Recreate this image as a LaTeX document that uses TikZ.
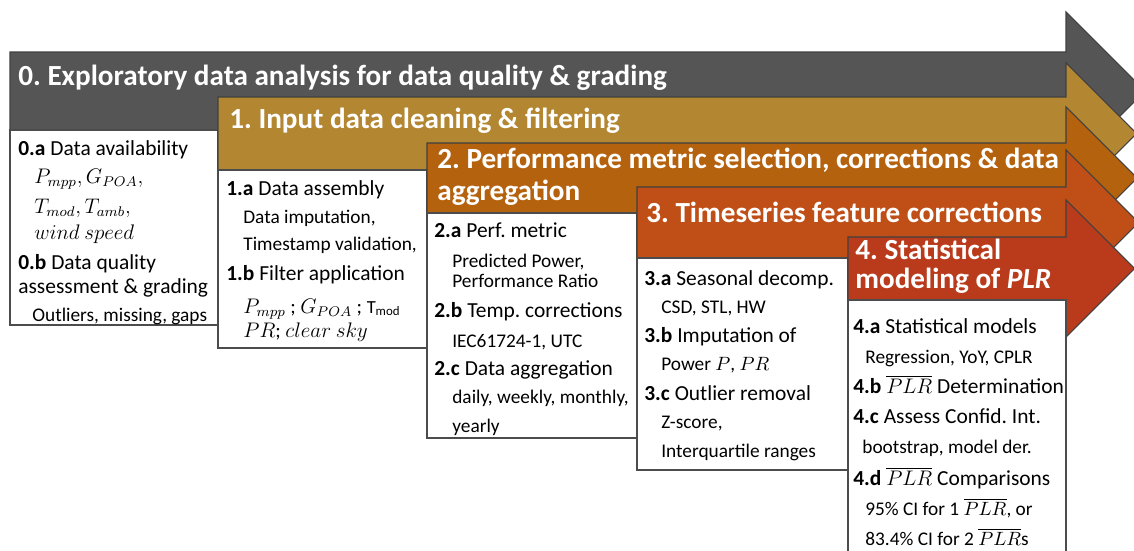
\documentclass[tikz,border=0pt]{standalone}
\usepackage{fontspec}
\setmainfont{Carlito}
\frenchspacing
\definecolor{grayband}{HTML}{555555}
\definecolor{goldband}{HTML}{B38631}
\definecolor{orangeband}{HTML}{B5620F}
\definecolor{rustband}{HTML}{BF4F17}
\definecolor{redband}{HTML}{B93B1B}
\begin{document}
\begin{tikzpicture}[x=0.02cm,y=-0.02cm,
	title/.style={anchor=base west,inner sep=0pt,text=white,font=\fontsize{16.6}{19}\selectfont\bfseries},
	item/.style={anchor=base west,inner sep=0pt,font=\fontsize{12.2}{14}\selectfont},
	eq/.style={anchor=base west,inner sep=0pt,font=\fontsize{11.6}{14}\selectfont},
	sub/.style={anchor=base west,inner sep=0pt,font=\fontsize{11}{12}\selectfont},
	band/.style={draw=black!75,line width=0.6pt},
	card/.style={draw=black!70,fill=white,line width=0.6pt}]
	\useasboundingbox (0,0) rectangle (1134,551);
	\clip (0,0) rectangle (1134,551);
	% step 0
	\draw[band,fill=grayband] (10,52) -- (1066,52) -- (1066,12) -- (1145,91) -- (1066,170) -- (1066,130) -- (10,130) -- cycle;
	\draw[card] (10,130) rectangle (218,325);
	\node[title] (t0) at (18,85) {0. Exploratory data analysis for data quality \& grading};
	\node[item] (i0a) at (18,155) {\textbf{0.a} Data availability};
	\node[eq] (e0a) at (34,183) {$P_{mpp}, G_{POA},$};
	\node[eq] (e0b) at (34,213) {$T_{mod}, T_{amb},$};
	\node[eq] (e0c) at (34,239) {$wind\ speed$};
	\node[item] (i0b) at (18,269) {\textbf{0.b} Data quality};
	\node[item] (i0c) at (18,293) {assessment \& grading};
	\node[sub] (s0a) at (32,321) {Outliers, missing, gaps};
	% step 1
	\draw[band,fill=goldband] (218,97) -- (1066,97) -- (1066,63) -- (1136.5,133.5) -- (1066,204) -- (1066,170) -- (218,170) -- cycle;
	\draw[card] (218,170) rectangle (427,348);
	\node[title] (t1) at (229,128) {1. Input data cleaning \& filtering};
	\node[item] (i1a) at (226,195) {\textbf{1.a} Data assembly};
	\node[sub] (s1a) at (243,223) {Data imputation,};
	\node[sub] (s1b) at (243,250) {Timestamp validation,};
	\node[item] (i1b) at (226,280) {\textbf{1.b} Filter application};
	\node[eq] (e1a) at (243,313) {$P_{mpp}$ ; $G_{POA}$ ; \fontsize{10.5}{12}\selectfont T\textsubscript{mod}};
	\node[eq] (e1b) at (243,337) {$PR$; $clear\ sky$};
	% step 2
	\draw[band,fill=orangeband] (427,143) -- (1066,143) -- (1066,107) -- (1137,178) -- (1066,249) -- (1066,213) -- (427,213) -- cycle;
	\draw[card] (427,213) rectangle (637,438);
	\node[title] (t2a) at (437,168) {2. Performance metric selection, corrections \& data};
	\node[title] (t2b) at (437,200) {aggregation};
	\node[item] (i2a) at (434,237) {\textbf{2.a} Perf. metric};
	\node[sub] (s2a) at (452,267) {Predicted Power,};
	\node[sub] (s2b) at (452,287) {Performance Ratio};
	\node[item] (i2b) at (434,317) {\textbf{2.b} Temp. corrections};
	\node[sub] (s2c) at (452,347) {IEC61724-1, UTC};
	\node[item] (i2c) at (434,375) {\textbf{2.c} Data aggregation};
	\node[sub] (s2d) at (452,403) {daily, weekly, monthly,};
	\node[sub] (s2e) at (452,432) {yearly};
	% step 3
	\draw[band,fill=rustband] (637,187) -- (1066,187) -- (1066,150) -- (1138.5,222.5) -- (1066,295) -- (1066,258) -- (637,258) -- cycle;
	\draw[card] (637,258) rectangle (848,470);
	\node[title] (t3) at (646,222) {3. Timeseries feature corrections};
	\node[item] (i3a) at (644,285) {\textbf{3.a} Seasonal decomp.};
	\node[sub] (s3a) at (661,313) {CSD, STL, HW};
	\node[item] (i3b) at (644,342) {\textbf{3.b} Imputation of};
	\node[sub] (s3b) at (661,370) {Power $P$, $PR$};
	\node[item] (i3c) at (644,400) {\textbf{3.c} Outlier removal};
	\node[sub] (s3c) at (661,428) {Z-score,};
	\node[sub] (s3d) at (661,457) {Interquartile ranges};
	% step 4
	\draw[band,fill=redband] (848,237) -- (1066,237) -- (1066,200) -- (1134.5,268.5) -- (1066,337) -- (1066,300) -- (848,300) -- cycle;
	\draw[card] (848,300) rectangle (1066,560);
	\node[title] (t4a) at (855,259) {4. Statistical};
	\node[title] (t4b) at (855,288) {modeling of \textit{PLR}};
	\node[item] (i4a) at (853,333) {\textbf{4.a} Statistical models};
	\node[sub] (s4a) at (865,363) {Regression, YoY, CPLR};
	\node[item] (i4b) at (853,393) {\textbf{4.b} $\overline{PLR}$ Determination};
	\node[item] (i4c) at (853,423) {\textbf{4.c} Assess Confid. Int.};
	\node[sub] (s4b) at (862,453) {bootstrap, model der.};
	\node[item] (i4d) at (853,485) {\textbf{4.d} $\overline{PLR}$ Comparisons};
	\node[sub] (s4c) at (865,515) {95\% CI for 1 $\overline{PLR}$, or};
	\node[sub] (s4d) at (865,545) {83.4\% CI for 2 $\overline{PLR}$s};
\end{tikzpicture}
\end{document}
